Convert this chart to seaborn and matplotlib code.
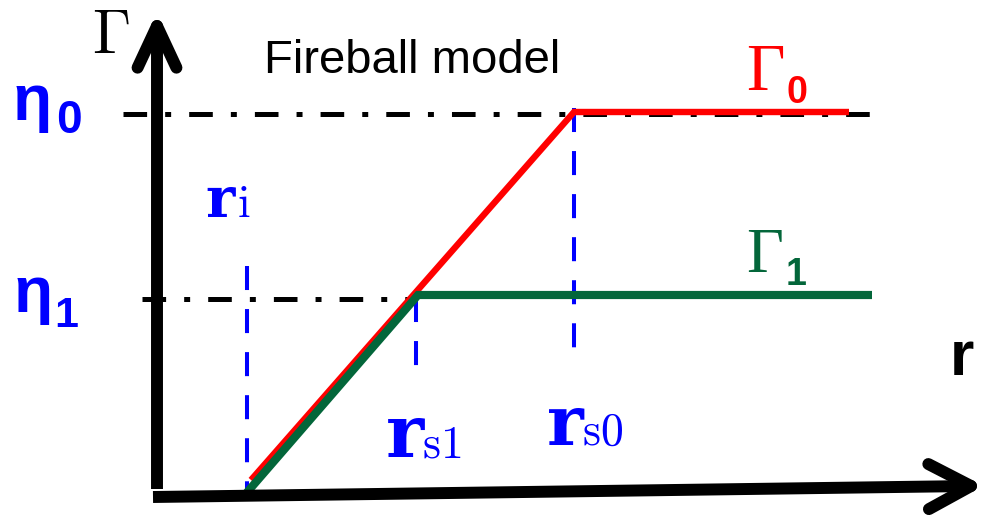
import numpy as np
import pandas as pd
import matplotlib
matplotlib.use("Agg")
import matplotlib.pyplot as plt
import seaborn as sns

# ---- schematic values (arbitrary units: r horizontally, Γ vertically) ----
r_i, r_s1, r_s0 = 90, 259, 417          # injection radius and saturation radii
eta0, eta1 = 382, 199                   # terminal Lorentz factors η0, η1
r_end0, r_end1 = 692, 715               # where each curve is cut off

# Γ(r): linear growth from r_i, then saturation at η
shell0_r = [94, r_s0, r_end0]
shell0_gamma = [14, eta0, eta0]
shell1_r = [86, r_s1 + 2, r_end1]
shell1_gamma = [-3, eta1, eta1]

# extent of the η reference lines
eta0_span = [-34, 725]
eta1_span = [-15, r_s1]

RED, GREEN, BLUE = "#ff0000", "#03663a", "#0000ff"

sns.set_theme(style="white")
plt.rcParams["mathtext.fontset"] = "cm"
plt.rcParams["lines.scale_dashes"] = False

fig = plt.figure(figsize=(9.84, 5.16), dpi=100)
ax = fig.add_axes([0, 0, 1, 1])

# ---- axes drawn as thick arrows with open chevron heads ----
AX_LW = 8.6


def arrow(start, tip, arm_len=47, arm_deg=27):
    start, tip = np.asarray(start, float), np.asarray(tip, float)
    d = (tip - start) / np.hypot(*(tip - start))
    n = np.array([-d[1], d[0]])
    a = np.deg2rad(arm_deg)
    ax.plot([start[0], tip[0]], [start[1], tip[1]], color="black", lw=AX_LW,
            solid_capstyle="butt", zorder=6)
    for s in (1, -1):
        end = tip - arm_len * (np.cos(a) * d + s * np.sin(a) * n)
        ax.plot([end[0], tip[0]], [end[1], tip[1]], color="black", lw=AX_LW,
                solid_capstyle="round", zorder=6)


arrow((0, 5), (0, 468), arm_len=46, arm_deg=25)       # Γ axis
arrow((-4, -3), (814, 8), arm_len=48, arm_deg=28)     # r axis

# ---- η reference lines (dash-dot) ----
dashdot = (0, (17, 13, 4.3, 13))
ax.plot(eta0_span, [eta0 - 2, eta0 - 2], color="black", lw=3.6, linestyle=dashdot,
        dash_capstyle="butt", zorder=1.5)
ax.plot(eta1_span, [eta1 - 4, eta1 - 4], color="black", lw=3.6, linestyle=dashdot,
        dash_capstyle="butt", zorder=1.5)

# ---- characteristic radii (blue dashed verticals) ----
blue_dash = (0, (17.3, 13.7))
for r0, top in [(r_i, 228), (r_s1, eta1 - 3), (r_s0, eta0 + 4)]:
    ax.plot([r0, r0], [top, -2], color=BLUE, lw=2.9, linestyle=blue_dash,
            dash_capstyle="butt", zorder=2)

# ---- Γ(r) curves ----
df0 = pd.DataFrame({"r": shell0_r, "gamma": shell0_gamma})
df1 = pd.DataFrame({"r": shell1_r, "gamma": shell1_gamma})
sns.lineplot(data=df0, x="r", y="gamma", sort=False, estimator=None,
             color=RED, lw=4.6, ax=ax, zorder=3)
sns.lineplot(data=df1, x="r", y="gamma", sort=False, estimator=None,
             color=GREEN, lw=5.9, ax=ax, zorder=4)
for ln in ax.lines[-2:]:
    ln.set_solid_capstyle("butt")
    ln.set_solid_joinstyle("miter")

ax.set_xlim(-157, 827)
ax.set_ylim(-22, 494)
ax.axis("off")

# ---- labels ----
SANS = "Liberation Sans"
SERIF = "Liberation Serif"
BSERIF = "DejaVu Serif"

ax.text(-65, 441, r"$\Gamma$", fontsize=44, color="black", ha="left", va="baseline")
ax.text(107, 421, "Fireball model", fontsize=34, family=SANS, color="black",
        ha="left", va="baseline")

# η labels on the Γ axis
ax.text(-144, 374, "η", fontsize=46, family=SANS, weight="bold", color=BLUE,
        ha="left", va="baseline")
ax.text(-101, 361, "0", fontsize=33, family=SANS, weight="bold", color=BLUE,
        ha="left", va="baseline")
ax.text(-143, 182, "η", fontsize=46, family=SANS, weight="bold", color=BLUE,
        ha="left", va="baseline")
ax.text(-103, 167, "1", fontsize=31, family=SANS, weight="bold", color=BLUE,
        ha="left", va="baseline")

# curve labels
ax.text(589, 404, "Γ", fontsize=48, family=SERIF, color=RED, ha="left", va="baseline")
ax.text(630, 391, "0", fontsize=27, family=SANS, weight="bold", color=RED,
        ha="left", va="baseline")
ax.text(589, 222, "Γ", fontsize=46, family=SERIF, color=GREEN, ha="left", va="baseline")
ax.text(629, 209, "1", fontsize=27, family=SANS, weight="bold", color=GREEN,
        ha="left", va="baseline")

# r axis label
ax.text(793, 119, "r", fontsize=45, family=SANS, weight="bold", color="black",
        ha="left", va="baseline")

# radius labels (white boxes interrupt the dashed guides behind them)
ax.text(48, 277, "r", fontsize=40, family=BSERIF, weight="bold", color=BLUE,
        ha="left", va="baseline", zorder=5)
ax.text(80, 277, r"$\mathrm{i}$", fontsize=33, color=BLUE, ha="left", va="baseline",
        zorder=5)
ax.text(229, 37, "r", fontsize=52, family=BSERIF, weight="bold", color=BLUE,
        ha="left", va="baseline", zorder=5,
        bbox=dict(boxstyle="square,pad=0.35", fc="white", ec="none"))
ax.text(265, 37, r"$\mathrm{s1}$", fontsize=33, color=BLUE, ha="left", va="baseline",
        zorder=5)
ax.text(390, 49, "r", fontsize=50, family=BSERIF, weight="bold", color=BLUE,
        ha="left", va="baseline", zorder=5,
        bbox=dict(boxstyle="square,pad=0.45", fc="white", ec="none"))
ax.text(425, 49, r"$\mathrm{s0}$", fontsize=33, color=BLUE, ha="left", va="baseline",
        zorder=5)

fig.savefig("out.png", dpi=100, facecolor="white")
